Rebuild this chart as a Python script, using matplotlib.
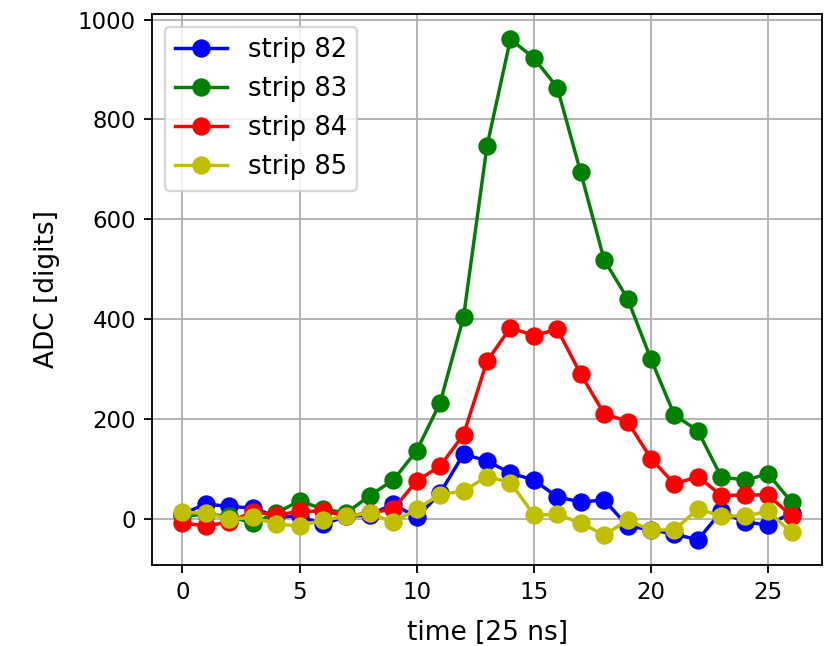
import numpy as np
import matplotlib
matplotlib.use("Agg")
import matplotlib.pyplot as plt


time = np.arange(27)

strip_82 = [10, 30, 25, 22, 5, 5, -10, 5, 8, 30, 3, 52, 130, 116, 92, 78, 44, 34, 38, -14, -22, -30, -42, 15, -6, -12, 12]
strip_83 = [5, 10, 5, -8, 12, 36, 20, 12, 47, 78, 137, 233, 405, 747, 961, 923, 864, 694, 519, 441, 320, 208, 177, 84, 78, 90, 34]
strip_84 = [-8, -14, -6, 14, 8, 15, 16, 6, 12, 20, 76, 106, 169, 316, 383, 367, 380, 290, 211, 195, 121, 70, 85, 47, 48, 48, 6]
strip_85 = [13, 12, 0, 3, -10, -14, -2, 5, 12, -7, 20, 49, 56, 85, 73, 8, 9, -8, -32, -3, -22, -22, 20, 6, 6, 15, -27]

strips = [strip_82, strip_83, strip_84, strip_85]
labels = ["strip 82", "strip 83", "strip 84", "strip 85"]
colors = ["b", "g", "r", "y"]


fig = plt.figure(figsize=(833 / 165, 646 / 165), dpi=165)
ax = fig.add_axes([0.1825, 0.1254, 0.8043, 0.8529])

for values, label, color in zip(strips, labels, colors):
    ax.plot(time, values, color=color, marker="o", markersize=7, label=label)

ax.set_xlabel("time [25 ns]", fontsize=11.5, labelpad=7)
ax.set_ylabel("ADC [digits]", fontsize=11.5, labelpad=8)
ax.grid(True)
ax.legend(loc="upper left", fontsize=11.3)

fig.savefig("out.png", dpi=165)
